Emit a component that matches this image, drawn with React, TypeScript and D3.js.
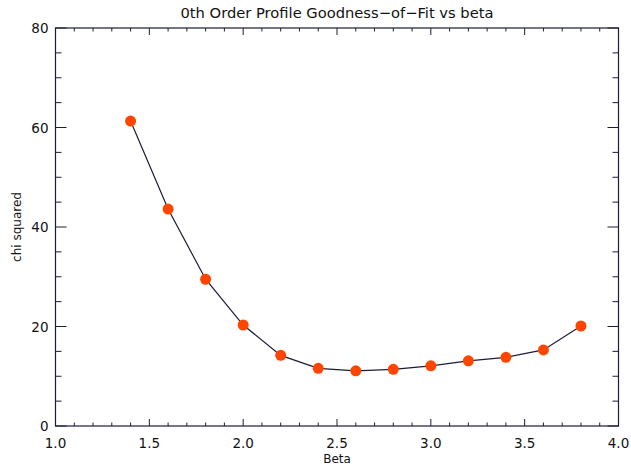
import { useEffect, useRef } from 'react'
import * as d3 from 'd3'

const W = 631, H = 470
const M = { left: 55.5, right: 12.5, top: 28, bottom: 44 }

const beta = [1.4, 1.6, 1.8, 2.0, 2.2, 2.4, 2.6, 2.8, 3.0, 3.2, 3.4, 3.6, 3.8]
const chi2 = [61.3, 43.6, 29.5, 20.3, 14.2, 11.6, 11.1, 11.4, 12.1, 13.1, 13.8, 15.3, 20.1]
const xTicks = [1.0, 1.5, 2.0, 2.5, 3.0, 3.5, 4.0]
const yTicks = [0, 20, 40, 60, 80]

const INK = '#1c1c3a'
const FONT = '"DejaVu Sans", sans-serif'

export default function App() {
  const svgRef = useRef<SVGSVGElement>(null)

  useEffect(() => {
    const svg = d3.select(svgRef.current)
    svg.selectAll('*').remove()

    const x = d3.scaleLinear([1, 4], [M.left, W - M.right])
    const y = d3.scaleLinear([0, 80], [H - M.bottom, M.top])
    const [x0, x1] = x.range()
    const [y0, y1] = y.range()

    // frame
    svg.append('rect')
      .attr('x', x0).attr('y', y1).attr('width', x1 - x0).attr('height', y0 - y1)
      .attr('fill', 'none').attr('stroke', INK).attr('stroke-width', 1.2)

    // x ticks (bottom + top)
    const xMinor = d3.range(10, 41).map((v) => v / 10)
    xMinor.forEach((v, i) => {
      const len = i % 5 === 0 ? 7 : 3.5
      const px = x(v)
      svg.append('line').attr('x1', px).attr('x2', px).attr('y1', y0).attr('y2', y0 - len).attr('stroke', INK)
      svg.append('line').attr('x1', px).attr('x2', px).attr('y1', y1).attr('y2', y1 + len).attr('stroke', INK)
    })
    // y ticks (left + right)
    const yMinor = d3.range(0, 81, 5)
    yMinor.forEach((v, i) => {
      const len = i % 4 === 0 ? 11 : 6
      const py = y(v)
      svg.append('line').attr('x1', x0).attr('x2', x0 + len).attr('y1', py).attr('y2', py).attr('stroke', INK)
      svg.append('line').attr('x1', x1).attr('x2', x1 - len).attr('y1', py).attr('y2', py).attr('stroke', INK)
    })

    const g = svg.append('g').attr('font-family', FONT).attr('fill', '#111')
    xTicks.forEach((v) => {
      g.append('text').attr('x', x(v)).attr('y', y0 + 22).attr('text-anchor', 'middle')
        .attr('font-size', 13.5).text(v.toFixed(1))
    })
    yTicks.forEach((v) => {
      g.append('text').attr('x', x0 - 7).attr('y', y(v) + 5).attr('text-anchor', 'end')
        .attr('font-size', 13.5).text(v)
    })

    g.append('text').attr('x', (x0 + x1) / 2).attr('y', 18).attr('text-anchor', 'middle')
      .attr('font-size', 14.7).text('0th Order Profile Goodness\u2212of\u2212Fit vs beta')
    g.append('text').attr('x', (x0 + x1) / 2).attr('y', 463).attr('text-anchor', 'middle')
      .attr('font-size', 12).text('Beta')
    g.append('text').attr('transform', `translate(21,${(y0 + y1) / 2}) rotate(-90)`)
      .attr('text-anchor', 'middle').attr('font-size', 12).text('chi squared')

    const pts = beta.map((b, i) => [b, chi2[i]] as [number, number])
    const line = d3.line<[number, number]>().x((d) => x(d[0])).y((d) => y(d[1]))
    svg.append('path').attr('d', line(pts)).attr('fill', 'none')
      .attr('stroke', INK).attr('stroke-width', 1.2)

    svg.selectAll('circle.pt').data(pts).enter().append('circle')
      .attr('class', 'pt')
      .attr('cx', (d) => x(d[0])).attr('cy', (d) => y(d[1])).attr('r', 5.5)
      .attr('fill', '#ff4500')
  }, [])

  return (
    <svg ref={svgRef} width={W} height={H}
      style={{ position: 'absolute', left: 0, top: 0, background: '#fff', display: 'block' }} />
  )
}
